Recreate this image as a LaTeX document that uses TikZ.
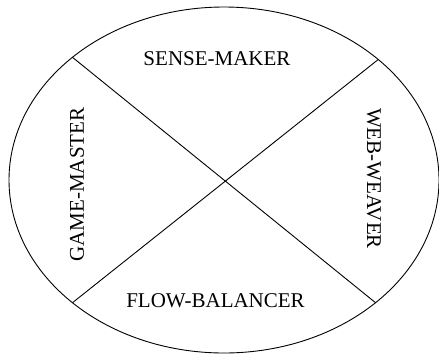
\documentclass[tikz,border=0pt]{standalone}
\usepackage{fontspec}
\setmainfont{Liberation Serif}
\usetikzlibrary{shapes.geometric}
\begin{document}
\begin{tikzpicture}[x=1pt,y=-1pt,
  lbl/.style={inner sep=0pt,font=\fontsize{21}{25}\selectfont},
  thin line/.style={line width=0.9pt}]
\useasboundingbox (0,0) rectangle (439,354);
\node[ellipse,draw,thin line,minimum width=430pt,minimum height=346pt,inner sep=0pt,outer sep=0pt] (oval) at (224,180) {};
\draw[thin line] (oval.141) -- (oval.321.5);
\draw[thin line] (oval.38) -- (oval.219);
\node[lbl] (sense) at (217,58.5) {SENSE-MAKER};
\node[lbl] (flow) at (215.5,301) {FLOW-BALANCER};
\node[lbl,rotate=90] (game) at (77,184.5) {GAME-MASTER};
\node[lbl,rotate=-90] (web) at (374,178.5) {WEB-WEAVER};
\end{tikzpicture}
\end{document}
